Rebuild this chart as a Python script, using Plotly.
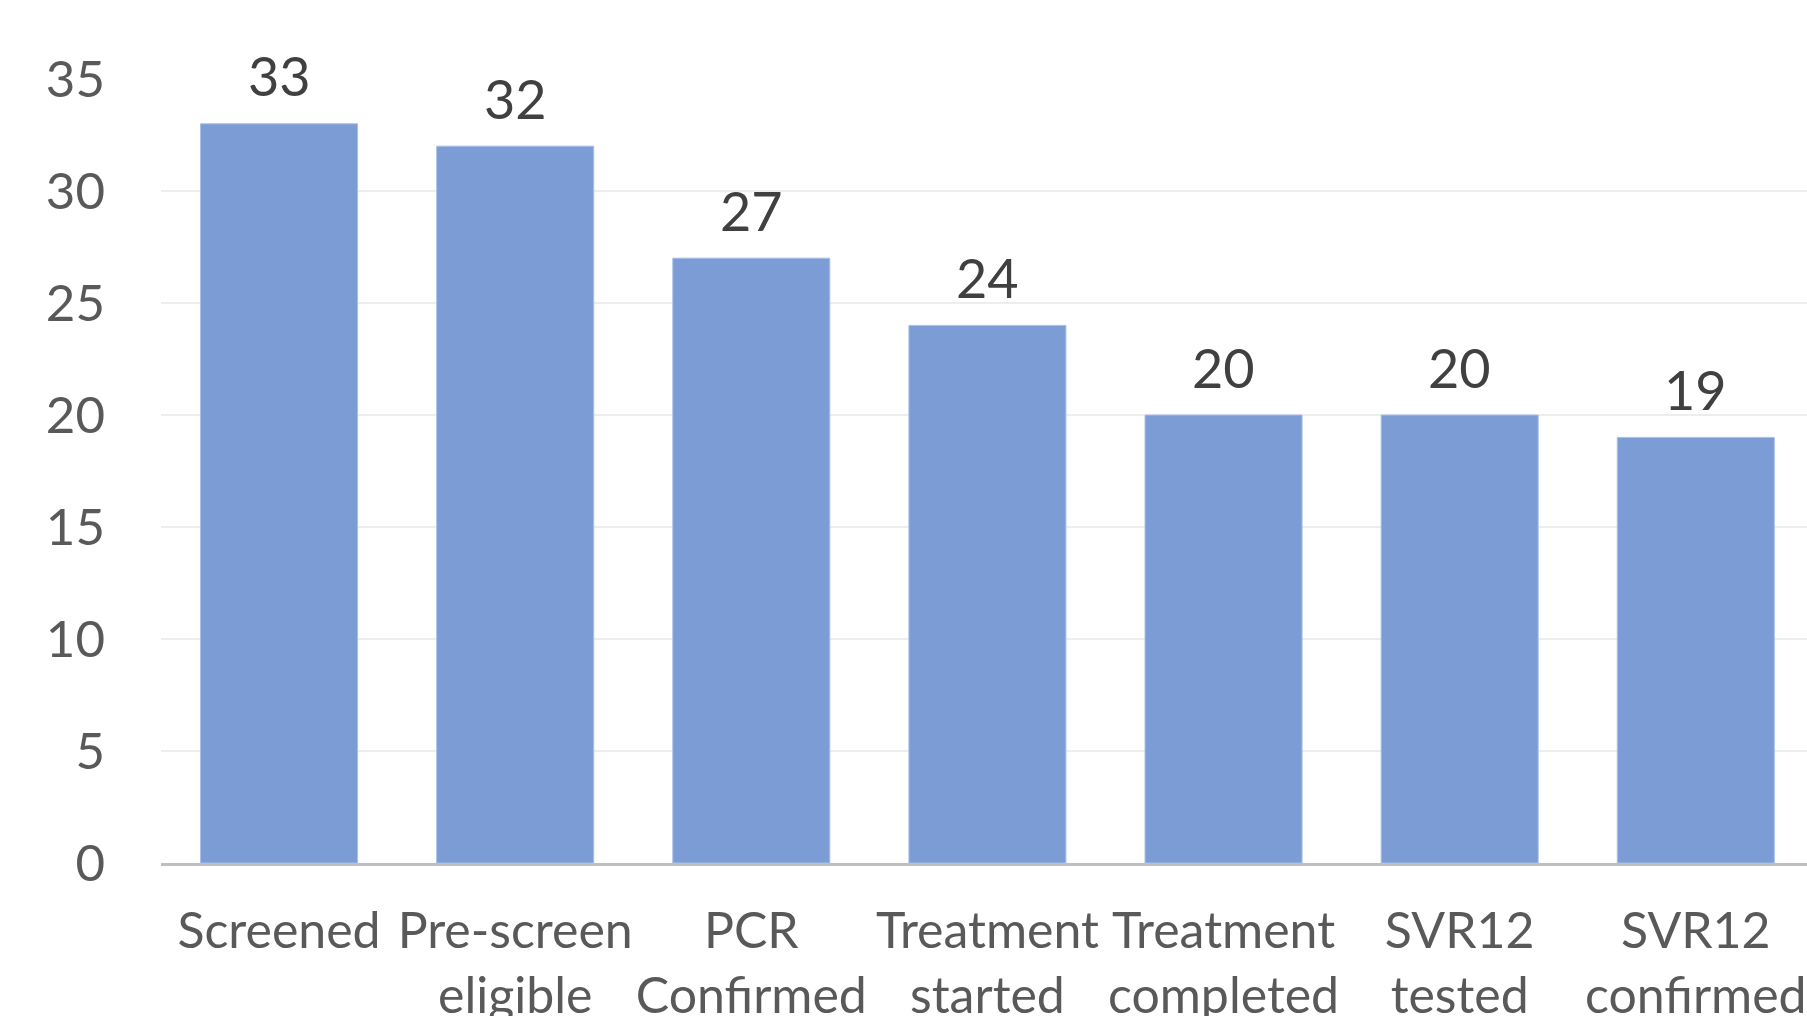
import plotly.graph_objects as go

# Patient cascade: counts at each stage
stages = [
    "Screened",
    "Pre-screen<br>eligible",
    "PCR<br>Confirmed",
    "Treatment<br>started",
    "Treatment<br>completed",
    "SVR12<br>tested",
    "SVR12<br>confirmed",
]
counts = [33, 32, 27, 24, 20, 20, 19]
y_ticks = [0, 5, 10, 15, 20, 25, 30, 35]

BAR_COLOR = "#7B9CD4"
FONT = "Lato"

fig = go.Figure()
fig.add_trace(
    go.Bar(
        x=stages,
        y=counts,
        marker=dict(color=BAR_COLOR, line=dict(color="#A8BFE6", width=1)),
        hoverinfo="x+y",
    )
)

# value labels above each bar
for stage, n in zip(stages, counts):
    fig.add_annotation(
        x=stage,
        y=n,
        text=str(n),
        showarrow=False,
        yanchor="middle",
        yshift=48,
        font=dict(family=FONT, size=54, color="#404040"),
    )

fig.update_layout(
    width=1807,
    height=1016,
    margin=dict(l=161, r=0, t=79, b=153),
    paper_bgcolor="white",
    plot_bgcolor="white",
    bargap=0.335,
    showlegend=False,
    font=dict(family=FONT, color="#595959"),
)

fig.update_xaxes(
    range=[-0.5, 6.471],
    showgrid=False,
    showline=True,
    linecolor="#BFBFBF",
    linewidth=3,
    ticks="",
    tickangle=0,
    ticklabelstandoff=22,
    tickfont=dict(family=FONT, size=50, color="#595959"),
    automargin=False,
)

fig.update_yaxes(
    range=[0, 35],
    tickvals=y_ticks,
    showgrid=True,
    gridcolor="#EDEDED",
    gridwidth=2,
    zeroline=False,
    showline=False,
    ticks="",
    ticklabelstandoff=55,
    tickfont=dict(family=FONT, size=51, color="#595959"),
    automargin=False,
)

fig.write_html("out.html")
